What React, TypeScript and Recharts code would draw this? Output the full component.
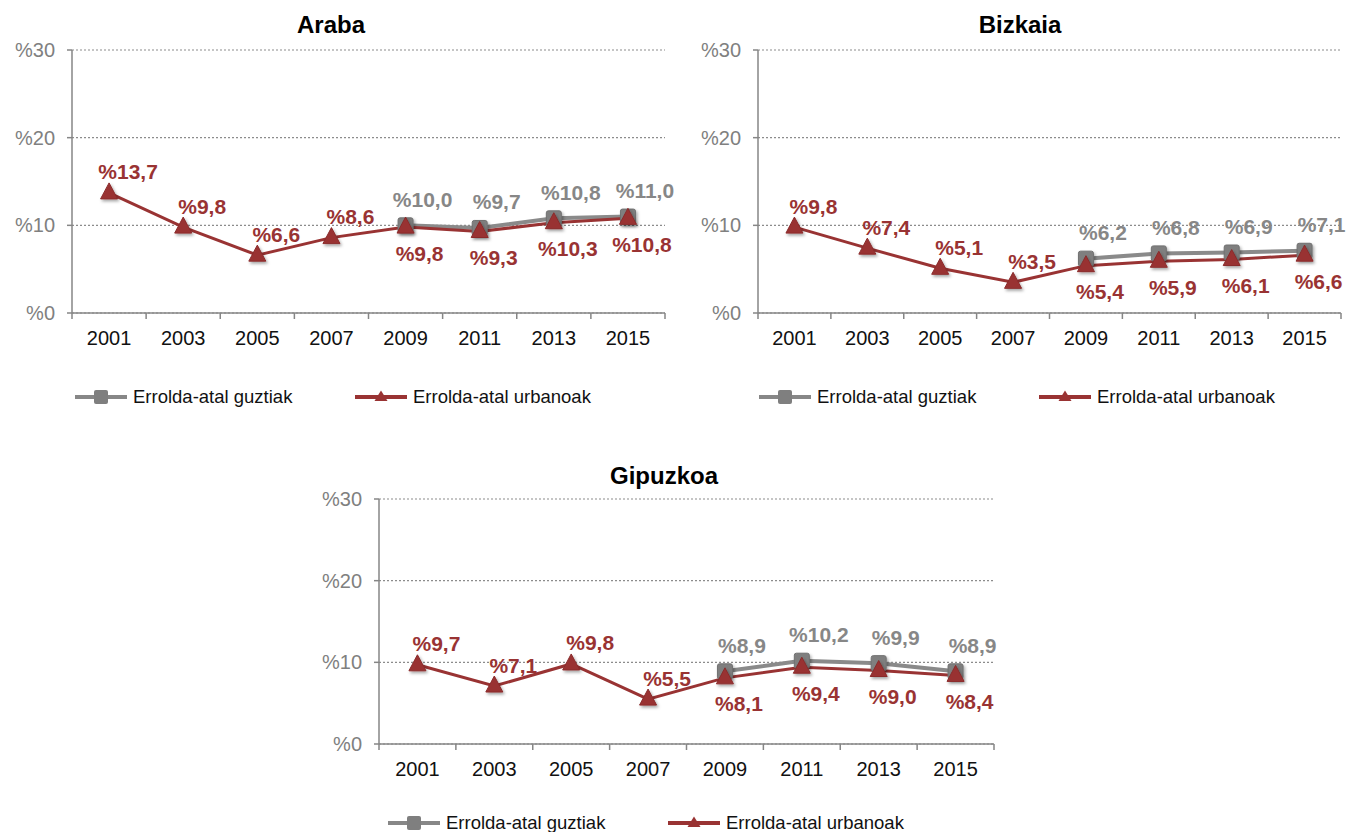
import React from 'react';
import { LineChart, Line, XAxis, YAxis, CartesianGrid, LabelList } from 'recharts';

// Years on the category axis
const YEARS = ['2001', '2003', '2005', '2007', '2009', '2011', '2013', '2015'];
const Y_TICKS = [0, 10, 20, 30];

// Araba
const ARABA_GUZTIAK = [null, null, null, null, 10.0, 9.7, 10.8, 11.0];
const ARABA_URBANOAK = [13.7, 9.8, 6.6, 8.6, 9.8, 9.3, 10.3, 10.8];

// Bizkaia
const BIZKAIA_GUZTIAK = [null, null, null, null, 6.2, 6.8, 6.9, 7.1];
const BIZKAIA_URBANOAK = [9.8, 7.4, 5.1, 3.5, 5.4, 5.9, 6.1, 6.6];

// Gipuzkoa
const GIPUZKOA_GUZTIAK = [null, null, null, null, 8.9, 10.2, 9.9, 8.9];
const GIPUZKOA_URBANOAK = [9.7, 7.1, 9.8, 5.5, 8.1, 9.4, 9.0, 8.4];

const SERIES_NAMES = ['Errolda-atal guztiak', 'Errolda-atal urbanoak'];

const GRAY = '#878787';
const RED = '#993333';
const AXIS = '#868686';
const FONT = '"Liberation Sans", Arial, sans-serif';

const Y_AXIS_W = 72;
const TOP_PAD = 10;
const RIGHT_PAD = 24;
const X_AXIS_H = 40;

const fmt = (v: number) => '%' + v.toFixed(1).replace('.', ',');

const SquareDot = (props: any) => {
  const { cx, cy, value, index } = props;
  if (value == null || cx == null || cy == null) return <g key={'s' + index} />;
  return (
    <rect key={'s' + index} x={cx - 7.5} y={cy - 7.5} width={15} height={15} rx={2}
      fill="#7f7f7f" stroke="#707070" strokeWidth={1} filter="url(#markShadow)" />
  );
};

const TriangleDot = (props: any) => {
  const { cx, cy, value, index } = props;
  if (value == null || cx == null || cy == null) return <g key={'t' + index} />;
  return (
    <path key={'t' + index} d={`M${cx},${cy - 10} L${cx + 8.5},${cy + 6} L${cx - 8.5},${cy + 6} Z`}
      fill={RED} stroke="#8a2a2a" strokeWidth={1} filter="url(#markShadow)" />
  );
};

// year label in the middle of each band, tick marks on the band edges
const makeYearTick = (band: number) => (props: any) => {
  const { x, y, payload, index } = props;
  const left = x - band / 2;
  return (
    <g>
      <line x1={left} y1={y} x2={left} y2={y + 6} stroke={AXIS} strokeWidth={1.5} />
      {index === YEARS.length - 1 && (
        <line x1={x + band / 2} y1={y} x2={x + band / 2} y2={y + 6} stroke={AXIS} strokeWidth={1.5} />
      )}
      <text x={x} y={y + 25} textAnchor="middle" dominantBaseline="central"
        fill="#111" fontSize={20} fontFamily={FONT}>
        {payload.value}
      </text>
    </g>
  );
};

const makeGrayLabel = () => (props: any) => {
  const { x, y, value } = props;
  if (value == null || x == null) return null;
  return (
    <text x={x + 17} y={y - 26} textAnchor="middle" dominantBaseline="central"
      fill={GRAY} fontSize={21} fontWeight="bold" fontFamily={FONT}>
      {fmt(value)}
    </text>
  );
};

// urban labels sit above the point, or below when the gray series shares the year
const makeRedLabel = (other: (number | null)[]) => (props: any) => {
  const { x, y, value, index } = props;
  if (value == null || x == null) return null;
  const below = other[index] != null;
  return (
    <text x={x + (below ? 14 : 19)} y={y + (below ? 26 : -21)} textAnchor="middle"
      dominantBaseline="central" fill={RED} fontSize={21} fontWeight="bold" fontFamily={FONT}>
      {fmt(value)}
    </text>
  );
};

const LegendIcon = ({ kind }: { kind: 'square' | 'triangle' }) => (
  <svg width={52} height={16} style={{ display: 'block' }}>
    <line x1={0} y1={8} x2={52} y2={8} stroke={kind === 'square' ? GRAY : RED} strokeWidth={4} />
    {kind === 'square' ? (
      <rect x={19} y={1} width={14} height={14} rx={2} fill="#7f7f7f" />
    ) : (
      <path d="M26,1.5 L32.5,12 L19.5,12 Z" fill={RED} />
    )}
  </svg>
);

const PanelLegend = ({ left, top }: { left: number; top: number }) => (
  <div style={{ position: 'absolute', left, top, display: 'flex', alignItems: 'center',
    fontFamily: FONT, fontSize: 18.5, color: '#111' }}>
    <div style={{ display: 'flex', alignItems: 'center', width: 280 }}>
      <LegendIcon kind="square" />
      <span style={{ marginLeft: 6 }}>{SERIES_NAMES[0]}</span>
    </div>
    <div style={{ display: 'flex', alignItems: 'center' }}>
      <LegendIcon kind="triangle" />
      <span style={{ marginLeft: 6 }}>{SERIES_NAMES[1]}</span>
    </div>
  </div>
);

interface PanelProps {
  title: string;
  guztiak: (number | null)[];
  urbanoak: number[];
  plotLeft: number;
  plotTop: number;
  plotW: number;
  plotH: number;
  titleX: number;
  titleY: number;
  legendLeft: number;
  legendTop: number;
}

const RegionPanel: React.FC<PanelProps> = ({
  title, guztiak, urbanoak, plotLeft, plotTop, plotW, plotH, titleX, titleY, legendLeft, legendTop,
}) => {
  const data = YEARS.map((year, i) => ({ year, guztiak: guztiak[i], urbanoak: urbanoak[i] }));
  const band = plotW / YEARS.length;
  return (
    <>
      <div style={{ position: 'absolute', left: titleX - 150, top: titleY - 15, width: 300,
        textAlign: 'center', fontFamily: FONT, fontWeight: 'bold', fontSize: 24, lineHeight: '30px' }}>
        {title}
      </div>
      <div style={{ position: 'absolute', left: plotLeft - Y_AXIS_W, top: plotTop - TOP_PAD }}>
        <LineChart
          width={Y_AXIS_W + plotW + RIGHT_PAD}
          height={TOP_PAD + plotH + X_AXIS_H}
          data={data}
          margin={{ top: TOP_PAD, right: RIGHT_PAD, left: 0, bottom: 0 }}
        >
          <CartesianGrid vertical={false} stroke="#8c8c8c" strokeDasharray="2 2" strokeWidth={1.2} />
          <XAxis dataKey="year" height={X_AXIS_H} interval={0} tickLine={false} tickSize={0} tickMargin={0}
            padding={{ left: band / 2, right: band / 2 }}
            axisLine={{ stroke: AXIS, strokeWidth: 1.5 }} tick={makeYearTick(band)} />
          <YAxis width={Y_AXIS_W} domain={[0, 30]} ticks={Y_TICKS} interval={0}
            tickFormatter={(v: number) => '%' + v}
            tick={{ fill: '#808080', fontSize: 20, fontFamily: FONT }}
            axisLine={{ stroke: AXIS, strokeWidth: 1.5 }} tickLine={{ stroke: AXIS, strokeWidth: 1.5 }}
            tickSize={5} tickMargin={12} />
          <Line dataKey="guztiak" stroke="#8a8a8a" strokeWidth={4} dot={SquareDot} activeDot={false}
            isAnimationActive={false}>
            <LabelList dataKey="guztiak" content={makeGrayLabel()} />
          </Line>
          <Line dataKey="urbanoak" stroke={RED} strokeWidth={3} dot={TriangleDot} activeDot={false}
            isAnimationActive={false}>
            <LabelList dataKey="urbanoak" content={makeRedLabel(guztiak)} />
          </Line>
        </LineChart>
      </div>
      <PanelLegend left={legendLeft} top={legendTop} />
    </>
  );
};

export default function App() {
  return (
    <div style={{ position: 'absolute', left: 0, top: 0, width: 1349, height: 832, overflow: 'hidden',
      background: '#fff' }}>
      <svg width={0} height={0} style={{ position: 'absolute' }}>
        <defs>
          <filter id="markShadow" x="-60%" y="-60%" width="220%" height="220%">
            <feDropShadow dx="1.5" dy="2" stdDeviation="1.5" floodColor="#000" floodOpacity="0.35" />
          </filter>
        </defs>
      </svg>
      <RegionPanel title="Araba" guztiak={ARABA_GUZTIAK} urbanoak={ARABA_URBANOAK}
        plotLeft={72} plotTop={50} plotW={593} plotH={263} titleX={331} titleY={25}
        legendLeft={75} legendTop={386} />
      <RegionPanel title="Bizkaia" guztiak={BIZKAIA_GUZTIAK} urbanoak={BIZKAIA_URBANOAK}
        plotLeft={758} plotTop={50} plotW={583} plotH={263} titleX={1020} titleY={25}
        legendLeft={759} legendTop={386} />
      <RegionPanel title="Gipuzkoa" guztiak={GIPUZKOA_GUZTIAK} urbanoak={GIPUZKOA_URBANOAK}
        plotLeft={379} plotTop={499} plotW={615} plotH={245} titleX={664} titleY={476}
        legendLeft={388} legendTop={812} />
    </div>
  );
}
